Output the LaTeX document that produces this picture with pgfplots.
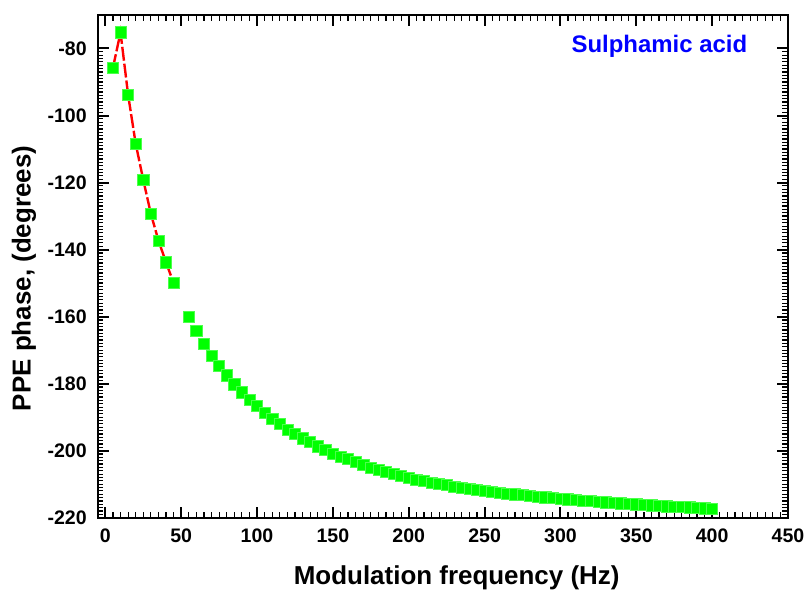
\documentclass[border=0pt]{standalone}
\usepackage{fontspec}
\setmainfont{Liberation Sans}
\usepackage{pgfplots}
\usepackage{pgfplotstable}
\pgfplotsset{compat=1.18}

% PPE phase vs modulation frequency, sulphamic acid
\pgfplotstableread{
f phase
5 -85.8
10 -75.2
15 -93.8
20 -108.4
25 -119.2
30 -129.3
35 -137.3
40 -143.8
45 -150.0
55 -160.1
60 -164.3
65 -168.1
70 -171.7
75 -174.7
80 -177.5
85 -180.2
90 -182.6
95 -184.9
100 -186.7
105 -188.7
110 -190.5
115 -192.1
120 -193.7
125 -195.0
130 -196.3
135 -197.4
140 -198.7
145 -199.7
150 -200.9
155 -201.8
160 -202.5
165 -203.4
170 -204.3
175 -205.0
180 -205.7
185 -206.4
190 -207.0
195 -207.6
200 -208.1
205 -208.6
210 -209.1
215 -209.5
220 -209.9
225 -210.3
230 -210.7
235 -211.1
240 -211.4
245 -211.7
250 -212.0
255 -212.3
260 -212.5
265 -212.8
270 -213.0
275 -213.2
280 -213.5
285 -213.7
290 -213.9
295 -214.1
300 -214.3
305 -214.5
310 -214.7
315 -214.9
320 -215.0
325 -215.2
330 -215.4
335 -215.5
340 -215.7
345 -215.8
350 -216.0
355 -216.1
360 -216.3
365 -216.4
370 -216.6
375 -216.7
380 -216.8
385 -216.9
390 -217.1
395 -217.2
400 -217.4
}\phasedata

\definecolor{ptgreen}{RGB}{0,255,0}

\begin{document}
\begin{tikzpicture}
\begin{axis}[
    scale only axis, width=346pt, height=252pt,
    xmin=-5, xmax=450, ymin=-220, ymax=-70,
    xtick={0,50,...,450}, ytick={-220,-200,...,-80},
    minor x tick num=9, minor y tick num=19,
    tick align=inside, tick pos=both,
    xticklabel pos=lower, yticklabel pos=left,
    major tick length=5.5pt, minor tick length=2.8pt,
    major tick style={line width=1pt, black},
    minor tick style={line width=0.6pt, black},
    axis line style={line width=1.2pt},
    /pgf/number format/assume math mode=true,
    tick label style={font=\fontsize{9.8}{11}\selectfont\bfseries},
    xticklabel style={yshift=-2pt},
    yticklabel style={xshift=-2pt},
    label style={font=\fontsize{13}{15}\selectfont\bfseries},
    xlabel={Modulation frequency (Hz)},
    ylabel={PPE phase, (degrees)},
    xlabel style={at={(axis description cs:0.52,-0.12)}, anchor=center},
    ylabel style={at={(axis description cs:-0.107,0.476)}, anchor=center},
]
\addplot[red, line width=1.2pt, dash pattern=on 7pt off 1.5pt,
    restrict x to domain=0:46] table[x=f, y=phase] {\phasedata};
\addplot[only marks, mark=square*, mark size=2.8pt,
    mark options={fill=ptgreen, draw=ptgreen!70!white, line width=0.3pt}]
    table[x=f, y=phase] {\phasedata};
\node[text=blue, font=\fontsize{12}{14}\selectfont\bfseries]
    at (rel axis cs:0.8136,0.937) {Sulphamic acid};
\end{axis}
\path (current axis.south west) ++(-49pt,-37.5pt)
      (current axis.north east) ++(10.5pt,7.5pt);
\end{tikzpicture}
\end{document}
